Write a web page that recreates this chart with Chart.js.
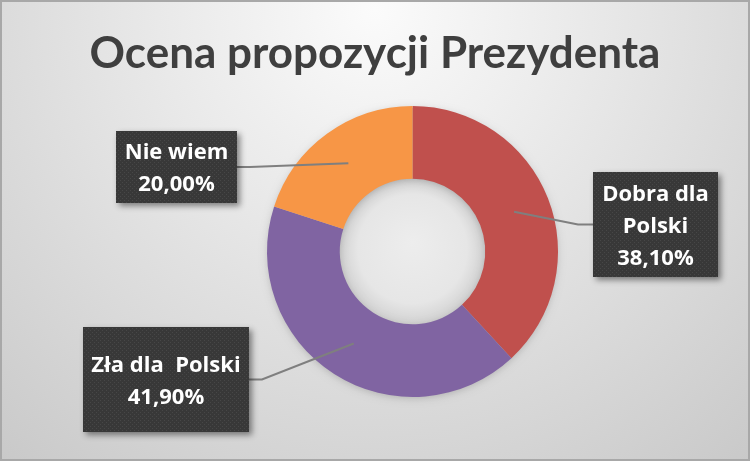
<!DOCTYPE html>
<html>
<head>
<meta charset="utf-8">
<script src="https://cdn.jsdelivr.net/npm/chart.js@4"></script>
<style>
  html, body { margin: 0; padding: 0; background: #d0d0d0; }
  #wrap { width: 750px; height: 461px; position: relative; }
</style>
</head>
<body>
<div id="wrap"><canvas id="c" width="750" height="461"></canvas></div>
<script>
// ---- data ----
const chartTitle = "Ocena propozycji Prezydenta";
const categories = ["Dobra dla Polski", "Zła dla Polski", "Nie wiem"];
const values = [38.1, 41.9, 20.0];
const labelLines = [["Dobra dla", "Polski"], ["Zła dla  Polski"], ["Nie wiem"]];
const sliceColors = ["#C0504D", "#8064A2", "#F79646"];

function fmtPct(v) { return v.toFixed(2).replace(".", ",") + "%"; }

// label box placement (layout only)
const boxes = [
  { x: 593, y: 172, w: 125, h: 105, side: "left" },
  { x: 83,  y: 327, w: 166, h: 105, side: "right" },
  { x: 116, y: 131, w: 121, h: 72,  side: "right" }
];

function makePattern(ctx) {
  const p = document.createElement("canvas");
  p.width = 4; p.height = 4;
  const pc = p.getContext("2d");
  pc.fillStyle = "#383838";
  pc.fillRect(0, 0, 4, 4);
  pc.fillStyle = "#474747";
  pc.fillRect(0, 0, 1, 1);
  pc.fillRect(2, 2, 1, 1);
  return ctx.createPattern(p, "repeat");
}

const bgPlugin = {
  id: "bg",
  beforeDraw(chart) {
    const ctx = chart.ctx, W = chart.width, H = chart.height;
    ctx.save();
    const g = ctx.createRadialGradient(375, 10, 0, 375, 10, 620);
    g.addColorStop(0, "#fbfbfb");
    g.addColorStop(0.35, "#e9e9e9");
    g.addColorStop(1, "#c6c6c6");
    ctx.fillStyle = g;
    ctx.fillRect(0, 0, W, H);
    ctx.strokeStyle = "#a8a8a8";
    ctx.lineWidth = 2;
    ctx.strokeRect(1, 1, W - 2, H - 2);
    // title
    ctx.fillStyle = "#3f3f3f";
    ctx.font = "bold 44px Lato";
    ctx.textAlign = "center";
    ctx.textBaseline = "alphabetic";
    ctx.fillText(chartTitle, 375, 68);
    // hole shading and ring shadow
    const meta = chart.getDatasetMeta(0);
    if (meta.data.length) {
      const a = meta.data[0];
      const cx = a.x, cy = a.y, ir = a.innerRadius, or = a.outerRadius;
      const hg = ctx.createRadialGradient(cx, cy - 10, 0, cx, cy, ir);
      hg.addColorStop(0, "#ededed");
      hg.addColorStop(0.75, "#e6e6e6");
      hg.addColorStop(1, "#d2d2d2");
      ctx.fillStyle = hg;
      ctx.beginPath();
      ctx.arc(cx, cy, ir + 1, 0, Math.PI * 2);
      ctx.fill();
      ctx.shadowColor = "rgba(0,0,0,0.25)";
      ctx.shadowBlur = 10;
      ctx.shadowOffsetY = 2;
      ctx.fillStyle = "#bbbbbb";
      ctx.beginPath();
      ctx.arc(cx, cy, or - 2, 0, Math.PI * 2);
      ctx.arc(cx, cy, ir + 2, 0, Math.PI * 2, true);
      ctx.fill();
    }
    ctx.restore();
  }
};

const labelPlugin = {
  id: "boxLabels",
  afterDatasetsDraw(chart) {
    const ctx = chart.ctx;
    const meta = chart.getDatasetMeta(0);
    const pattern = makePattern(ctx);
    meta.data.forEach((arc, i) => {
      const b = boxes[i];
      const p = arc.tooltipPosition();
      const cy = b.y + b.h / 2;
      const ex = b.side === "left" ? b.x : b.x + b.w;
      const elbowX = b.side === "left" ? ex - 15 : ex + 13;
      ctx.save();
      ctx.strokeStyle = "#7f7f7f";
      ctx.lineWidth = 2;
      ctx.beginPath();
      ctx.moveTo(p.x, p.y);
      ctx.lineTo(elbowX, cy);
      ctx.lineTo(ex, cy);
      ctx.stroke();
      ctx.restore();
      ctx.save();
      ctx.shadowColor = "rgba(0,0,0,0.45)";
      ctx.shadowBlur = 6;
      ctx.shadowOffsetX = 3;
      ctx.shadowOffsetY = 3;
      ctx.fillStyle = "#3a3a3a";
      ctx.fillRect(b.x, b.y, b.w, b.h);
      ctx.restore();
      ctx.save();
      ctx.fillStyle = pattern;
      ctx.fillRect(b.x, b.y, b.w, b.h);
      const lines = labelLines[i].concat([fmtPct(values[i])]);
      const lh = 32;
      ctx.fillStyle = "#ffffff";
      ctx.font = "bold 22px 'Open Sans'";
      ctx.textAlign = "center";
      ctx.textBaseline = "alphabetic";
      const startY = cy - (lines.length - 1) * lh / 2 + 8;
      lines.forEach((t, k) => ctx.fillText(t, b.x + b.w / 2, startY + k * lh));
      ctx.restore();
    });
  }
};

new Chart(document.getElementById("c"), {
  type: "doughnut",
  data: {
    labels: categories,
    datasets: [{
      data: values,
      backgroundColor: sliceColors,
      borderWidth: 0,
      hoverOffset: 0
    }]
  },
  options: {
    responsive: false,
    animation: false,
    cutout: "50%",
    layout: { padding: { left: 267, right: 192, bottom: 64, top: 106 } },
    plugins: {
      legend: { display: false },
      tooltip: { enabled: false },
      title: { display: false }
    }
  },
  plugins: [bgPlugin, labelPlugin]
});
</script>
</body>
</html>
